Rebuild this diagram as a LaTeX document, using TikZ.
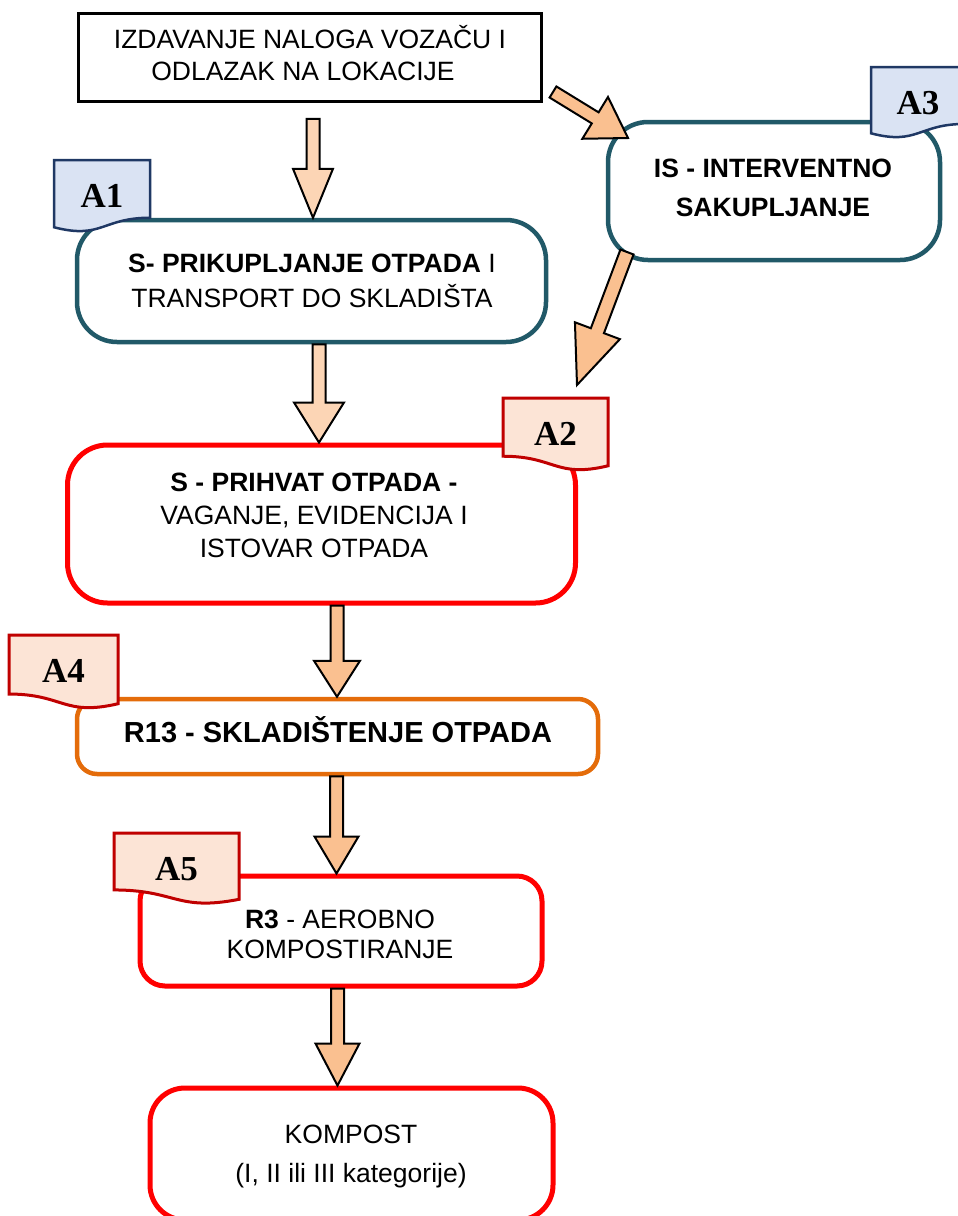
\documentclass[tikz,border=0pt]{standalone}
\usepackage{fontspec}
\setmainfont{Liberation Sans}
\newfontfamily\tagfont{Liberation Serif}
\usetikzlibrary{calc}
\definecolor{tealbox}{HTML}{215968}
\definecolor{redbox}{HTML}{FF0000}
\definecolor{orangebox}{HTML}{E46C0A}
\definecolor{tagBfill}{HTML}{DAE3F3}
\definecolor{tagBdraw}{HTML}{1F3864}
\definecolor{tagRfill}{HTML}{FCE4D6}
\definecolor{tagRdraw}{HTML}{C00000}
\definecolor{arrlight}{HTML}{FCD5B5}
\definecolor{arrdark}{HTML}{FAC090}
\tikzset{
  box/.style={draw, rectangle, inner sep=0pt, fill=white},
  plainbox/.style={box, draw=black, line width=2.5pt},
  tealb/.style={box, draw=tealbox, line width=4.5pt, rounded corners=40pt},
  redb/.style={box, draw=redbox, line width=5pt},
  orangeb/.style={box, draw=orangebox, line width=4.5pt, rounded corners=20pt},
  txt/.style={inner sep=0pt, anchor=base, font=\fontsize{26.5}{30}\selectfont},
  tagB/.style={draw=tagBdraw, fill=tagBfill, line width=2.5pt},
  tagR/.style={draw=tagRdraw, fill=tagRfill, line width=3pt},
  taglbl/.style={inner sep=0pt, anchor=base, font=\tagfont\bfseries\fontsize{35}{40}\selectfont},
  barrL/.style={draw=black, fill=arrlight, line width=2pt, line join=miter},
  barrD/.style={draw=black, fill=arrdark, line width=2pt, line join=miter},
}
% block arrow: #1 style, #2 tail, #3 tip, #4 half shaft, #5 half head, #6 head length
\newcommand{\blockarr}[6]{%
  \coordinate (#2h) at ($(#3)!#6!(#2)$);
  \draw[#1] ($(#2)!#4!90:(#3)$) -- ($(#2h)!#4!90:(#3)$) -- ($(#2h)!#5!90:(#3)$) -- (#3)
     -- ($(#2h)!#5!-90:(#3)$) -- ($(#2h)!#4!-90:(#3)$) -- ($(#2)!#4!-90:(#3)$) -- cycle;
}
% document tag, wave dipping at left (blue)
\newcommand{\doctagB}[5]{%
  \draw[tagB] (#1,#2) -- ({#1+#3},#2) -- ({#1+#3},{#2+0.802*#4})
    .. controls ({#1+0.5*#3},{#2+0.802*#4}) and ({#1+0.5*#3},{#2+1.107*#4}) .. (#1,{#2+0.934*#4}) -- cycle;
  \node[taglbl] (tag#5) at ({#1+0.5*#3},{#2+47.5}) {#5};
}
% document tag, wave dipping at right (red)
\newcommand{\doctagR}[5]{%
  \draw[tagR] (#1,#2) -- ({#1+#3},#2) -- ({#1+#3},{#2+0.934*#4})
    .. controls ({#1+0.5*#3},{#2+1.107*#4}) and ({#1+0.5*#3},{#2+0.802*#4}) .. (#1,{#2+0.802*#4}) -- cycle;
  \node[taglbl] (tag#5) at ({#1+0.5*#3},{#2+47.5}) {#5};
}
\begin{document}
\begin{tikzpicture}[x=1pt,y=-1pt]
\path[use as bounding box] (0,0) rectangle (958,1216);
\clip (0,0) rectangle (958,1216);
\fill[white] (0,0) rectangle (958,1216);

% boxes
\node[plainbox, minimum width=463pt, minimum height=88pt] (b0) at (310,57.5) {};
\node[tealb, minimum width=469pt, minimum height=122pt] (b1) at (311.5,281) {};
\node[tealb, minimum width=332pt, minimum height=138pt] (b3) at (774,191) {};
\node[redb, rounded corners=40pt, minimum width=508pt, minimum height=158pt] (b2) at (321.5,524) {};
\node[orangeb, minimum width=521pt, minimum height=75pt] (b4) at (337.5,736.5) {};
\node[redb, rounded corners=25pt, minimum width=402pt, minimum height=110pt] (b5) at (341,931) {};
\node[redb, rounded corners=35pt, minimum width=403pt, minimum height=132pt] (b6) at (351.5,1154) {};

% texts
\node[txt] (t0a) at (310,48) {IZDAVANJE NALOGA VOZAČU I};
\node[txt] (t0b) at (303,80) {ODLAZAK NA LOKACIJE};
\node[txt] (t1a) at (312,272) {\textbf{S- PRIKUPLJANJE OTPADA} I};
\node[txt] (t1b) at (312,307) {TRANSPORT DO SKLADIŠTA};
\node[txt] (t3a) at (773,177) {\textbf{IS - INTERVENTNO}};
\node[txt] (t3b) at (773,216) {\textbf{SAKUPLJANJE}};
\node[txt] (t2a) at (314,491) {\textbf{S - PRIHVAT OTPADA -}};
\node[txt] (t2b) at (314,524) {VAGANJE, EVIDENCIJA I};
\node[txt] (t2c) at (314,557) {ISTOVAR OTPADA};
\node[txt, font=\bfseries\fontsize{29}{32}\selectfont] (t4a) at (338,742) {R13 - SKLADIŠTENJE OTPADA};
\node[txt] (t5a) at (340,928) {\textbf{R3} - AEROBNO};
\node[txt] (t5b) at (340,958) {KOMPOSTIRANJE};
\node[txt] (t6a) at (351,1143) {KOMPOST};
\node[txt] (t6b) at (351,1182) {(I, II ili III kategorije)};

% tags
\doctagB{54}{160}{96}{72}{A1}
\doctagB{871}{67}{94}{71}{A3}
\doctagR{503}{398}{105}{72.6}{A2}
\doctagR{9}{635}{109}{73.6}{A4}
\doctagR{114}{833}{125}{71}{A5}

% arrows
\coordinate (a1s) at ($(b0.south)+(3,16)$);
\coordinate (a1e) at (a1s |- b1.north);
\blockarr{barrL}{a1s}{a1e}{6.5pt}{20pt}{49pt}
\coordinate (a2s) at ($(b1.south)+(7.5,0)$);
\coordinate (a2e) at (a2s |- b2.north);
\blockarr{barrL}{a2s}{a2e}{6.5pt}{25pt}{40pt}
\coordinate (a3s) at ($(b2.south)+(15.5,0)$);
\coordinate (a3e) at (a3s |- b4.north);
\blockarr{barrD}{a3s}{a3e}{6.5pt}{23pt}{36pt}
\coordinate (a4s) at ($(b4.south)+(-1,0)$);
\coordinate (a4e) at (a4s |- b5.north);
\blockarr{barrD}{a4s}{a4e}{6.5pt}{22pt}{37pt}
\coordinate (a5s) at ($(b5.south)+(-3.5,0)$);
\coordinate (a5e) at (a5s |- b6.north);
\blockarr{barrD}{a5s}{a5e}{6.5pt}{22pt}{42pt}
\coordinate (a6s) at (553,92);
\coordinate (a6e) at (628,138);
\blockarr{barrD}{a6s}{a6e}{6.5pt}{24.5pt}{38.5pt}
\coordinate (a7s) at (627,252);
\coordinate (a7e) at (577,385);
\blockarr{barrD}{a7s}{a7e}{7pt}{24pt}{58pt}
\end{tikzpicture}
\end{document}
